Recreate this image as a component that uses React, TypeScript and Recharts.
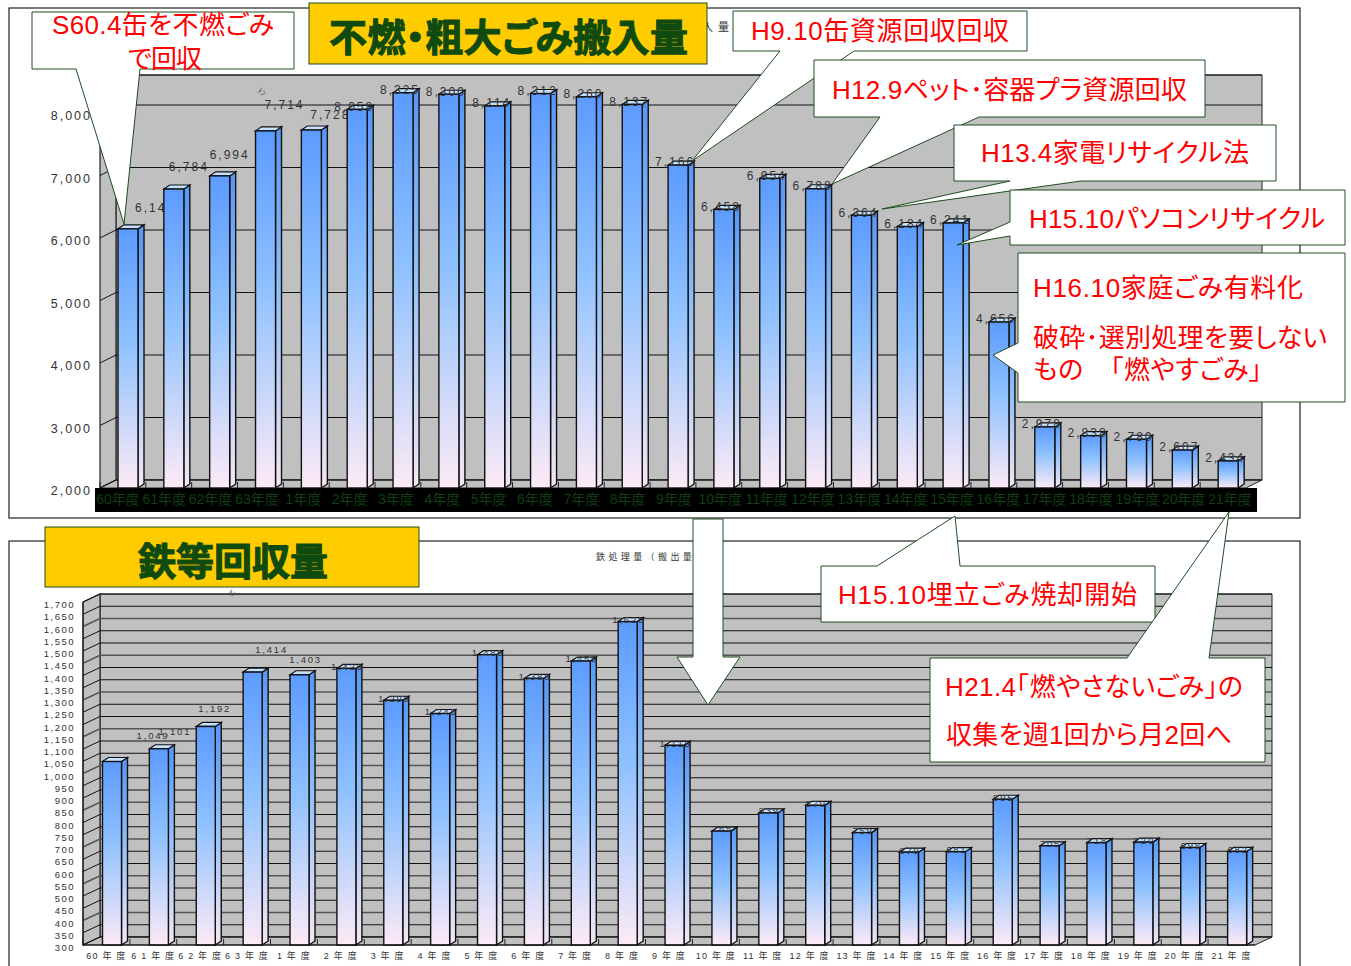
import React from 'react';
import { BarChart, Bar, XAxis, YAxis, CartesianGrid, usePlotArea } from 'recharts';

const topYears = ['60年度', '61年度', '62年度', '63年度', '1年度', '2年度', '3年度', '4年度', '5年度', '6年度', '7年度', '8年度', '9年度', '10年度', '11年度', '12年度', '13年度', '14年度', '15年度', '16年度', '17年度', '18年度', '19年度', '20年度', '21年度'];
const bottomYears = ['60 年 度', '6 1 年 度', '6 2 年 度', '6 3 年 度', '1 年 度', '2 年 度', '3 年 度', '4 年 度', '5 年 度', '6 年 度', '7 年 度', '8 年 度', '9 年 度', '10 年 度', '11 年 度', '12 年 度', '13 年 度', '14 年 度', '15 年 度', '16 年 度', '17 年 度', '18 年 度', '19 年 度', '20 年 度', '21 年 度'];
const wasteValues = [6147, 6784, 6994, 7714, 7728, 8058, 8325, 8300, 8114, 8312, 8260, 8137, 7166, 6458, 6954, 6788, 6364, 6184, 6241, 4656, 2978, 2838, 2780, 2607, 2434];
const ironValues = [1049, 1101, 1192, 1414, 1403, 1429, 1299, 1245, 1485, 1388, 1459, 1620, 1115, 765, 839, 870, 759, 679, 681, 895, 705, 718, 720, 698, 682];
const topTicks = [2000, 3000, 4000, 5000, 6000, 7000, 8000];
const bottomTicks = [300, 350, 400, 450, 500, 550, 600, 650, 700, 750, 800, 850, 900, 950, 1000, 1050, 1100, 1150, 1200, 1250, 1300, 1350, 1400, 1450, 1500, 1550, 1600, 1650, 1700];

const topData = topYears.map((year, i) => ({ year, value: wasteValues[i] }));
const bottomData = bottomYears.map((year, i) => ({ year, value: ironValues[i] }));

// the first few labels sit away from their bars in the original
const topNudge = [[27, -21], [15, -22], [10, -21], [19, -26], [19, -15]];
const bottomNudge = [[41, -26], [16, -17], [9, -18], [19, -22], [6, -15]];

const FONT = '"Liberation Sans", "Noto Sans CJK JP", sans-serif';
const GREEN = '#1f4d1f';
const NUM = (v: number) => v.toLocaleString('en-US');

function Walls({ depth, rise, count, strip }: { depth: number; rise: number; count: number; strip?: boolean }) {
  const area = usePlotArea();
  if (!area) return null;
  const L = area.x;
  const R = area.x + area.width;
  const T = area.y;
  const B = area.y + area.height;
  const band = area.width / count;
  return (
    <g>
      <defs>
        <linearGradient id="barFill" x1="0" y1="0" x2="0" y2="1">
          <stop offset="0" stopColor="#5c9bff" />
          <stop offset="0.45" stopColor="#90c2ff" />
          <stop offset="1" stopColor="#fdeaf6" />
        </linearGradient>
        <linearGradient id="barSide" x1="0" y1="0" x2="0" y2="1">
          <stop offset="0" stopColor="#5596f5" />
          <stop offset="0.45" stopColor="#8fc0fb" />
          <stop offset="1" stopColor="#f5e6f4" />
        </linearGradient>
      </defs>
      <polygon points={`${L + depth},${T - rise} ${R + depth},${T - rise} ${R + depth},${B - rise} ${L + depth},${B - rise}`} fill="#c0c0c0" stroke="#222" />
      <polygon points={`${L},${T} ${L + depth},${T - rise} ${L + depth},${B - rise} ${L},${B}`} fill="#c0c0c0" stroke="#222" strokeWidth={1.2} />
      <polygon points={`${L},${B} ${L + depth},${B - rise} ${R + depth},${B - rise} ${R},${B}`} fill="#c0c0c0" stroke="#222" />
      {topYears.slice(0, count).map((_, i) => (
        <line key={i} x1={L + band * i} x2={L + band * i} y1={B} y2={B - 6} stroke="#222" />
      ))}
      {strip && <rect x={L - 5} y={B} width={R - L + 16} height={24} fill="#000" />}
    </g>
  );
}

function grid(depth: number, rise: number, striped: boolean) {
  return (p: any) => {
    const heavy = striped && p.index % 3 === 2;
    return (
      <polyline
        key={p.key}
        points={`${p.x1},${p.y1} ${p.x1 + depth},${p.y1 - rise} ${p.x2 + depth},${p.y1 - rise}`}
        fill="none"
        stroke={heavy ? '#555' : '#111'}
        strokeWidth={heavy ? 1.6 : 1}
      />
    );
  };
}

function bar3d(shift: number, side: number, lift: number, size: number, spacing: number, nudges: number[][], fallback: number[]) {
  return (p: any) => {
    const x = p.x + shift;
    const { y, width: w, height: h, index, value } = p;
    const [nx, ny] = nudges[index] || fallback;
    return (
      <g>
        <polygon points={`${x + w},${y} ${x + w + side},${y - lift} ${x + w + side},${y + h - lift} ${x + w},${y + h}`} fill="url(#barSide)" stroke="#111" strokeWidth={1.4} />
        <polygon points={`${x},${y} ${x + side},${y - lift} ${x + w + side},${y - lift} ${x + w},${y}`} fill="#c4e0ff" stroke="#111" strokeWidth={1.2} />
        <rect x={x} y={y} width={w} height={h} fill="url(#barFill)" stroke="#111" strokeWidth={1.4} />
        <text x={x + w / 2 + nx} y={y + ny + size * 0.36} textAnchor="middle" fontFamily={FONT} fontSize={size} letterSpacing={spacing} fill="#333">
          {NUM(Array.isArray(value) ? value[1] : value)}
        </text>
      </g>
    );
  };
}

function TopYTick({ x, y, payload }: any) {
  return <text x={x} y={y + 7} textAnchor="end" fontFamily={FONT} fontSize={12.5} letterSpacing={2} fill="#333">{NUM(payload.value)}</text>;
}
function BottomYTick({ x, y, payload }: any) {
  return <text x={x} y={y + 6} textAnchor="end" fontFamily={FONT} fontSize={9.5} letterSpacing={1.5} fill="#333">{NUM(payload.value)}</text>;
}
function TopXTick({ x, y, payload, index }: any) {
  return <text x={x + (index - 12) * 0.5 + 1} y={y + 8} textAnchor="middle" fontFamily={FONT} fontSize={14} fill="#0f3f12">{payload.value}</text>;
}
function BottomXTick({ x, y, payload }: any) {
  return <text x={x} y={y + 6} textAnchor="middle" fontFamily={FONT} fontSize={9} letterSpacing={1.2} fill="#333">{payload.value}</text>;
}

const callouts = [
  { points: '32,12 294,12 294,69 140,69 124,224 76,69 32,69' },
  { points: '733,11 1027,11 1027,51 854,51 692,161 780,51 733,51' },
  { points: '814,60 1205,60 1205,117 979,117 832,184 880,117 814,117' },
  { points: '954,125 1276,125 1276,181 1081,181 882,209 1010,181 954,181' },
  { points: '1010,190 1345,190 1345,245 1010,245 1010,236 957,245 1010,222' },
  { points: '1018,253 1345,253 1345,402 1018,402 1018,373 993,355 1018,343' },
  { points: '821,566 877,566 955,516 960,566 1155,566 1155,622 821,622' },
  { points: '930,658 1127,658 1229,512 1209,658 1265,658 1265,762 930,762' },
];

const notes = [
  { text: 'S60.4缶を不燃ごみ', x: 52, y: 34, len: 222 },
  { text: 'で回収', x: 128, y: 68, len: 74 },
  { text: 'H9.10缶資源回収回収', x: 751, y: 40, len: 258 },
  { text: 'H12.9ペット･容器プラ資源回収', x: 832, y: 99, len: 355 },
  { text: 'H13.4家電リサイクル法', x: 981, y: 162, len: 268 },
  { text: 'H15.10パソコンリサイクル', x: 1029, y: 228, len: 296 },
  { text: 'H16.10家庭ごみ有料化', x: 1033, y: 297, len: 270 },
  { text: '破砕･選別処理を要しない', x: 1033, y: 347, len: 294 },
  { text: 'もの　「燃やすごみ」', x: 1033, y: 379, len: 229 },
  { text: 'H15.10埋立ごみ焼却開始', x: 838, y: 604, len: 299 },
  { text: 'H21.4｢燃やさないごみ｣の', x: 945, y: 696, len: 298 },
  { text: '収集を週1回から月2回へ', x: 946, y: 744, len: 286 },
];

export default function App() {
  return (
    <div style={{ position: 'absolute', left: 0, top: 0, width: 1351, height: 966, overflow: 'hidden', background: '#fff' }}>
      <svg width={1351} height={966} style={{ position: 'absolute', left: 0, top: 0 }}>
        <rect x={9} y={8} width={1291} height={510} fill="#fff" stroke="#222" strokeWidth={1.2} />
        <rect x={9} y={541} width={1291} height={440} fill="#fff" stroke="#222" strokeWidth={1.2} />
      </svg>

      <div style={{ position: 'absolute', left: 0, top: 0 }}>
        <BarChart width={1351} height={520} data={topData} margin={{ top: 83, right: 105, bottom: 8, left: 60 }}>
          <Walls depth={16} rise={8} count={topData.length} strip />
          <CartesianGrid zIndex={1} vertical={false} horizontal={grid(16, 8, false)} />
          <XAxis dataKey="year" interval={0} height={24} axisLine={false} tickLine={false} tick={<TopXTick />} />
          <YAxis type="number" width={40} domain={[2000, 8480]} ticks={topTicks} axisLine={false} tickLine={false} tick={<TopYTick />} />
          <Bar dataKey="value" barSize={20} isAnimationActive={false} shape={bar3d(5, 6, 4, 12, 2, topNudge, [-3, -3])} />
        </BarChart>
      </div>

      <div style={{ position: 'absolute', left: 0, top: 530 }}>
        <BarChart width={1351} height={436} data={bottomData} margin={{ top: 72, right: 96, bottom: 0, left: 53 }}>
          <Walls depth={17} rise={8} count={bottomData.length} />
          <CartesianGrid zIndex={1} vertical={false} horizontal={grid(17, 8, true)} />
          <XAxis dataKey="year" interval={0} height={21} axisLine={{ stroke: '#111' }} tickLine={false} tick={<BottomXTick />} />
          <YAxis type="number" width={30} domain={[300, 1700]} ticks={bottomTicks} interval={0} axisLine={{ stroke: '#111' }} tickLine={false} tick={<BottomYTick />} />
          <Bar dataKey="value" barSize={19} isAnimationActive={false} shape={bar3d(5.5, 6, 4, 9.5, 1.8, bottomNudge, [1, -2])} />
        </BarChart>
      </div>

      <svg width={1351} height={966} style={{ position: 'absolute', left: 0, top: 0 }} fontFamily={FONT}>
        <text x={257} y={92} fontSize={8} fill="#444" transform="rotate(35 257 92)">ﾄﾝ</text>
        <text x={228} y={593} fontSize={7} fill="#444" transform="rotate(35 228 593)">ﾄﾝ</text>
        <text x={596} y={560} fontSize={9} letterSpacing={3.4} fill="#333">鉄処理量（搬出量）</text>
        <text x={702} y={31} fontSize={11} letterSpacing={5} fill="#333">入量</text>

        <polygon points={callouts[0].points} fill="#fff" stroke={GREEN} strokeWidth={1} />
        <rect x={309} y={3} width={398} height={61} fill="#ffcc00" stroke={GREEN} strokeWidth={1} />
        <rect x={45} y={527} width={374} height={60} fill="#ffcc00" stroke={GREEN} strokeWidth={1} />
        <text x={329} y={51} fontSize={38} fontWeight={700} fill="#0f4a0f" stroke="#0f4a0f" strokeWidth={1.1} textLength={359} style={{ fontFeatureSettings: '"palt"' }}>不燃・粗大ごみ搬入量</text>
        <text x={138} y={575} fontSize={38} fontWeight={700} fill="#0f4a0f" stroke="#0f4a0f" strokeWidth={1.1} textLength={190}>鉄等回収量</text>

        {callouts.slice(1).map((c, i) => (
          <polygon key={i} points={c.points} fill="#fff" stroke={GREEN} strokeWidth={1} />
        ))}
        <polygon points="693,519 723,519 723,657 740,657 708,705 677,657 693,657" fill="#fff" stroke={GREEN} strokeWidth={1} />

        {notes.map((n) => (
          <text key={n.text} x={n.x} y={n.y} fontSize={26} fill="#ff0000" textLength={n.len} style={{ fontFeatureSettings: '"palt"' }}>{n.text}</text>
        ))}
      </svg>
    </div>
  );
}
